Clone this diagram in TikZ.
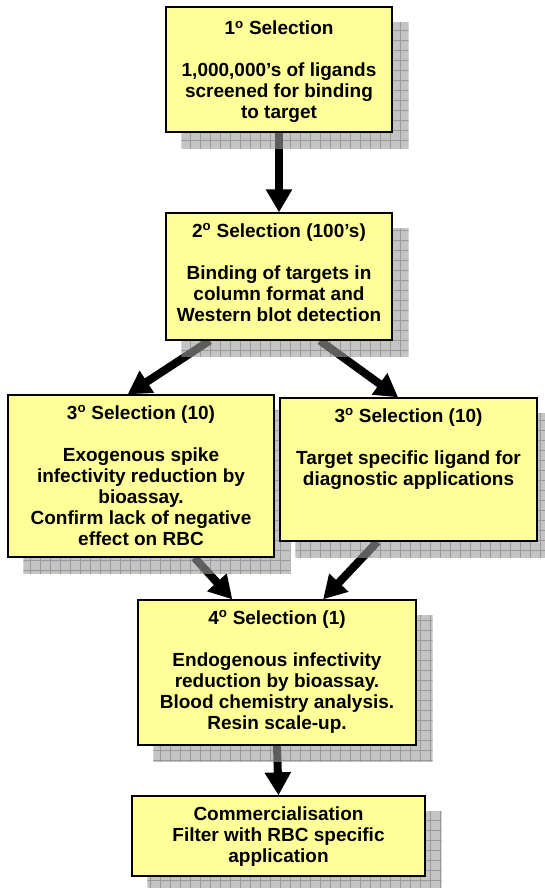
\documentclass[tikz,border=0pt]{standalone}
\usepackage{fontspec}
\setmainfont{Liberation Sans}
\usetikzlibrary{arrows.meta,calc}
\definecolor{boxyellow}{HTML}{FFFF99}
\pgfdeclarelayer{arrowlayer}
\pgfdeclarelayer{shadelayer}
\pgfsetlayers{arrowlayer,shadelayer,main}
\newcommand{\seltext}[3]{\parbox[c][#2][t]{#1}{\centering\rule{0pt}{24pt}#3}}
\newcommand{\selno}[1]{#1\textsuperscript{o}}
\begin{document}
\begin{tikzpicture}[x=1pt, y=-1pt,
		selbox/.style={draw, line width=1.3pt, fill=boxyellow, inner sep=0pt,
			font=\fontsize{19}{21}\selectfont\bfseries},
		flow/.style={line width=8pt, -{Triangle[width=25pt,length=23pt]}}]
	\useasboundingbox (0,0) rectangle (545,888);
	% selection boxes
	\node[selbox] (sel1) at (279,69.5) {\seltext{226pt}{125pt}{\rule{0pt}{28pt}\selno{1} Selection\\[21pt]
		1,000,000's of ligands\\ screened for binding\\ to target}};
	\node[selbox] (sel2) at (279,276.5) {\seltext{226pt}{127pt}{\selno{2} Selection (100's)\\[21pt]
		Binding of targets in\\ column format and\\ Western blot detection}};
	\node[selbox] (sel3a) at (141,476) {\seltext{266pt}{162pt}{\selno{3} Selection (10)\\[21pt]
		Exogenous spike\\ infectivity reduction by\\ bioassay.\\ Confirm lack of negative\\ effect on RBC}};
	\node[selbox] (sel3b) at (408.5,469.5) {\seltext{257pt}{143pt}{\selno{3} Selection (10)\\[21pt]
		Target specific ligand for\\ diagnostic applications}};
	\node[selbox] (sel4) at (277,672.5) {\seltext{278pt}{145pt}{\selno{4} Selection (1)\\[21pt]
		Endogenous infectivity\\ reduction by bioassay.\\ Blood chemistry analysis.\\ Resin scale-up.}};
	\node[selbox] (sel5) at (278.5,836) {\seltext{293pt}{80pt}{Commercialisation\\
		Filter with RBC specific\\ application}};
	% shadows
	\begin{pgfonlayer}{shadelayer}
		\foreach \n in {sel1,sel2,sel3a,sel3b,sel4,sel5}{
			\begin{scope}
				\clip ($(\n.north west)+(16,16)$) rectangle ($(\n.south east)+(16,16)$);
				\fill[black!39, opacity=0.6] ($(\n.north west)+(16,16)$) rectangle ($(\n.south east)+(16,16)$);
				\draw[black!60, opacity=0.45, line width=0.8pt, step=10pt] ($(\n.south west)+(10,20)$) grid ($(\n.north east)+(20,10)$);
			\end{scope}
		}
	\end{pgfonlayer}
	% arrows
	\begin{pgfonlayer}{arrowlayer}
		\draw[flow] (sel1.south) -- (sel2.north);
		\draw[flow] ($(sel2.south west)!0.195!(sel2.south east)$) -- ($(sel3a.north west)!0.45!(sel3a.north east)$);
		\draw[flow] ($(sel2.south west)!0.68!(sel2.south east)$) -- ($(sel3b.north west)!0.46!(sel3b.north east)$);
		\draw[flow] ($(sel3a.south west)!0.70!(sel3a.south east)$) -- ($(sel4.north west)!0.34!(sel4.north east)$);
		\draw[flow] ($(sel3b.south west)!0.38!(sel3b.south east)$) -- ($(sel4.north west)!0.665!(sel4.north east)$);
		\draw[flow] (sel4.south) -- (sel5.north);
	\end{pgfonlayer}
\end{tikzpicture}
\end{document}
